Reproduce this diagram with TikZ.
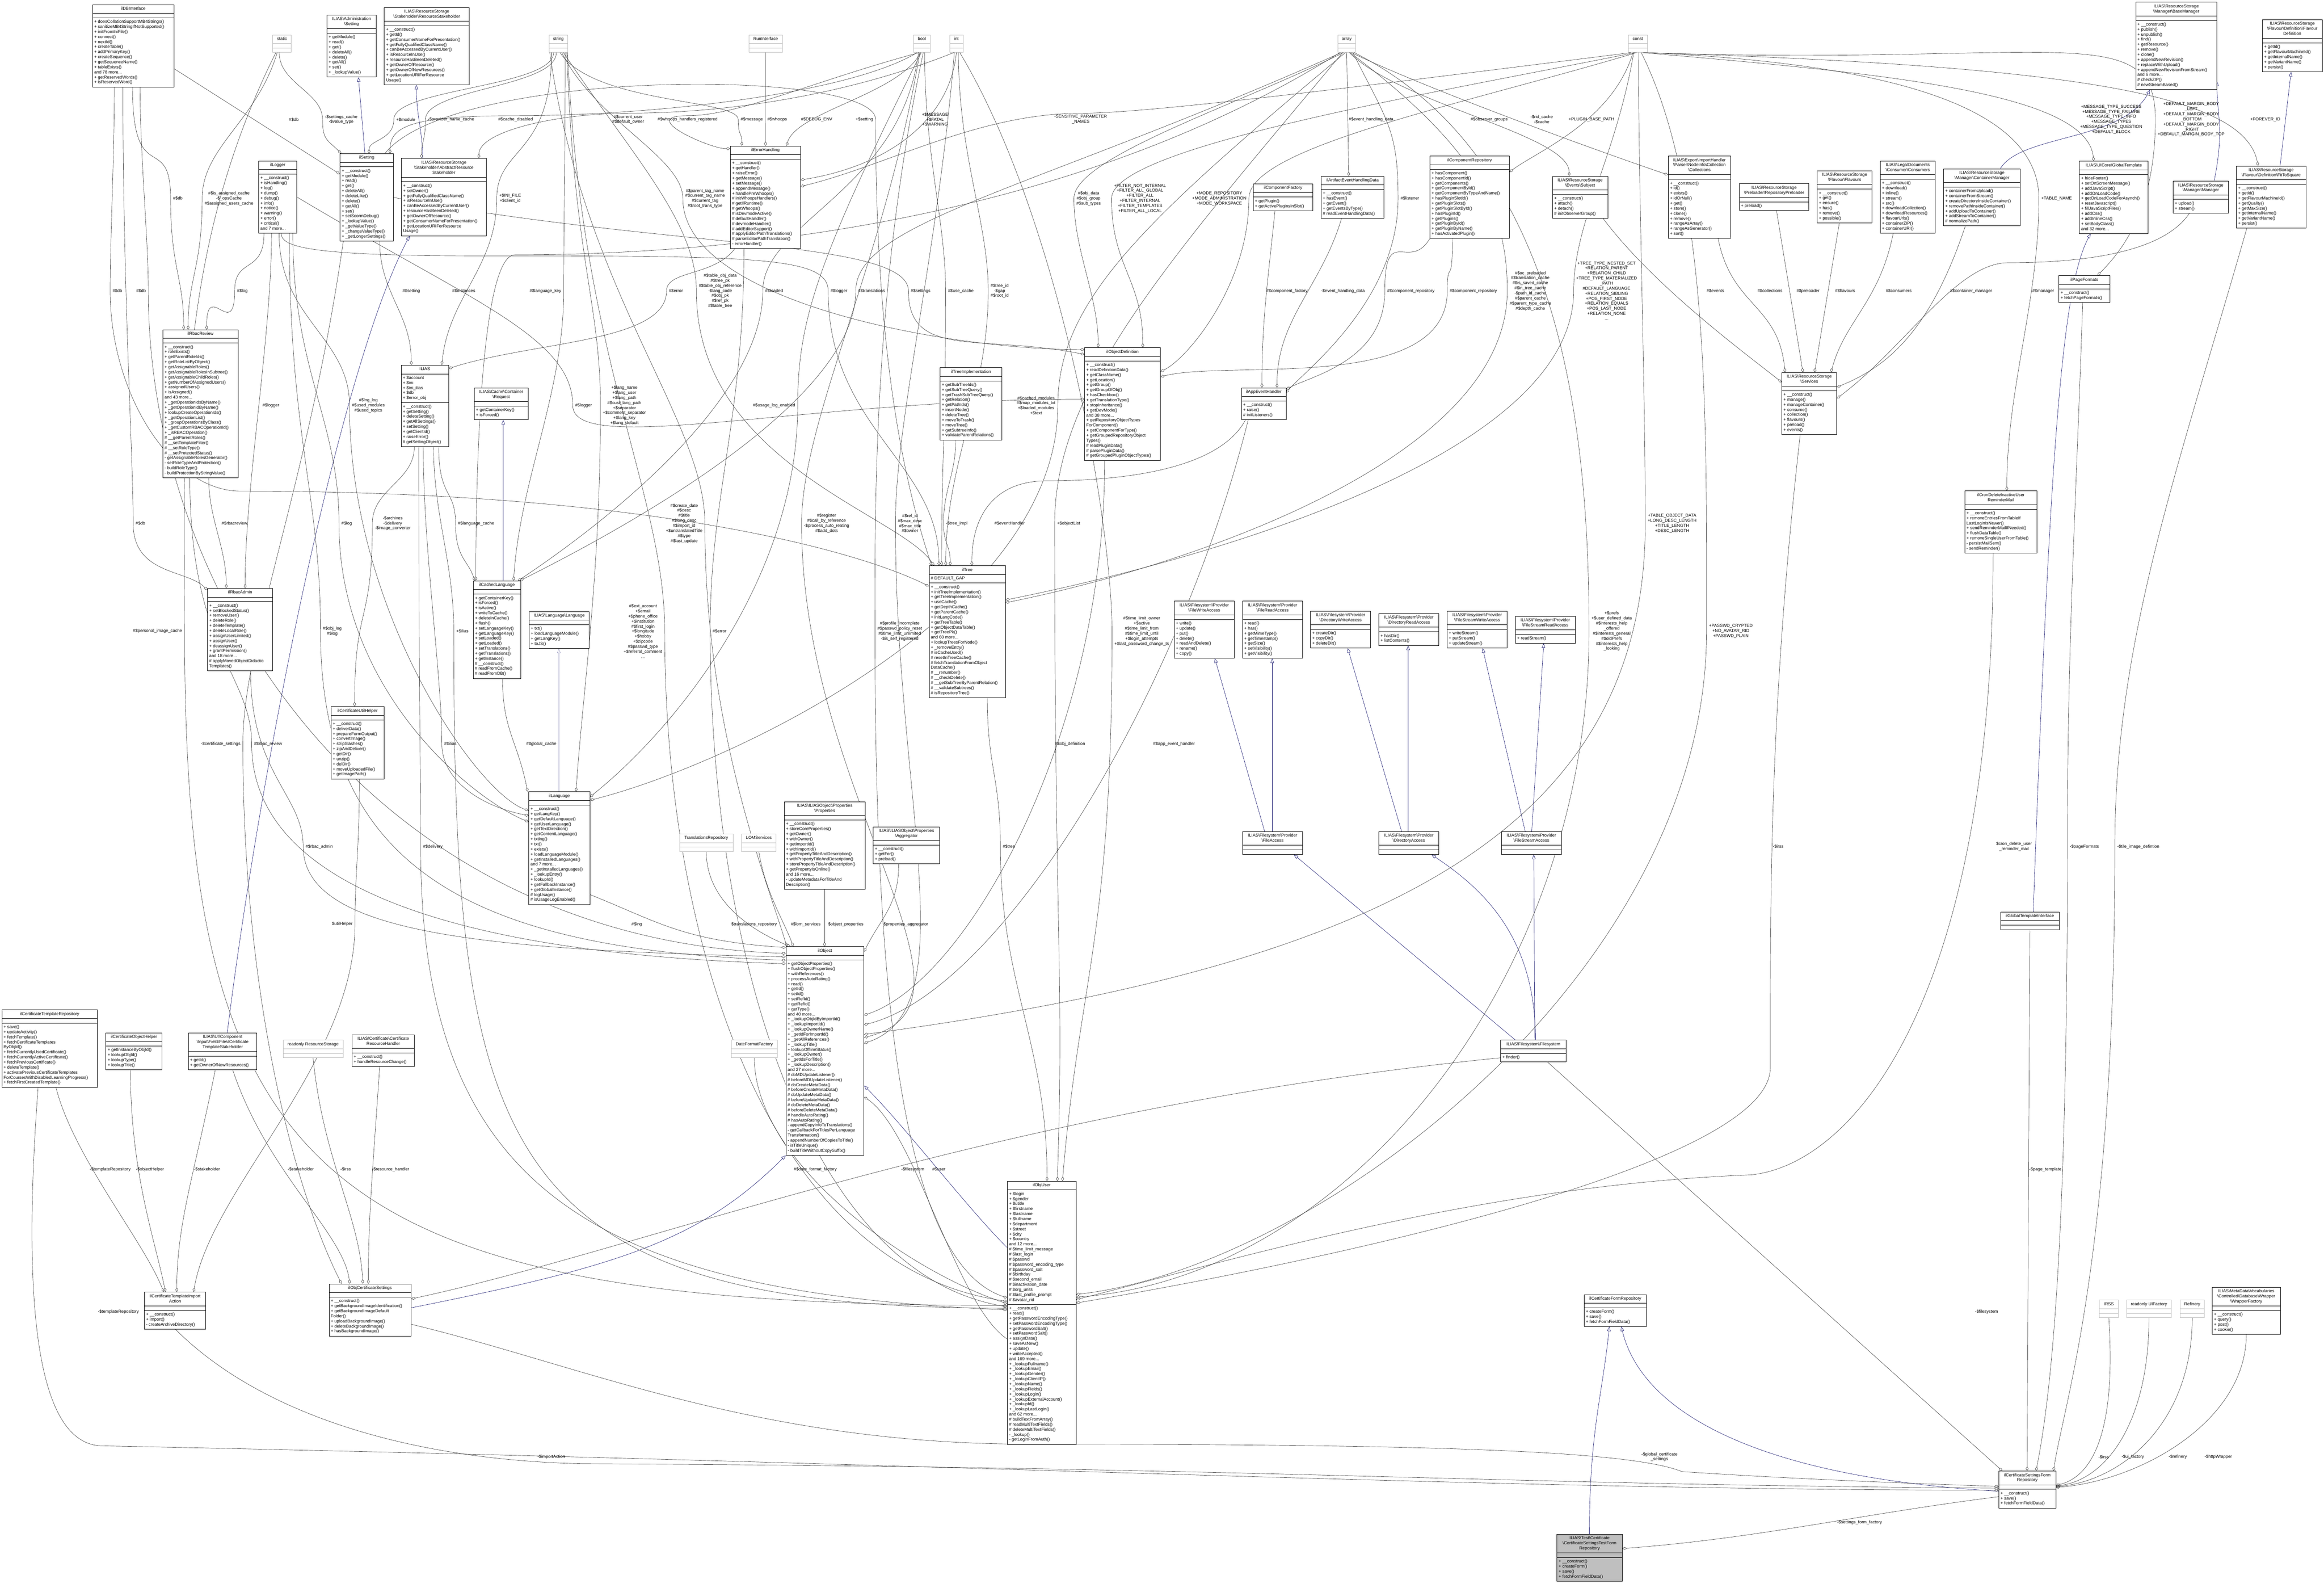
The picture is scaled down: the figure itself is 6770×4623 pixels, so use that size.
\documentclass[tikz,border=0pt]{standalone}
\usepackage{fontspec}
\setmainfont{Liberation Sans}
\usetikzlibrary{shapes.multipart,arrows.meta,backgrounds}
\pgfdeclarelayer{paper}
\pgfsetlayers{paper,background,main}
\definecolor{aggc}{HTML}{404040}
\definecolor{inhc}{HTML}{191970}
\definecolor{tboxc}{HTML}{BFBFBF}
\newcommand{\dfont}{\fontsize{12.5}{14.7}\selectfont}
\newcommand{\bsl}{\textbackslash}
\tikzset{
 umlcls/.style={rectangle split, rectangle split parts=3, draw=black, line width=1.1pt, fill=white, anchor=north west, inner xsep=5pt, inner ysep=4.6pt, font=\dfont, rectangle split part align={center,left,left}},
 typebox/.style={umlcls, draw=tboxc, line width=1pt},
 lbl/.style={font=\dfont, align=center, inner sep=1pt},
 agg/.style={draw=aggc, line width=0.9pt, -{Diamond[open,length=13pt,width=8pt]}},
 inh/.style={draw=inhc, line width=0.9pt, -{Triangle[open,length=13pt,width=10pt]}},
 inhl/.style={inh, draw=inhc!45},
}
\newcommand{\umlc}[7]{\node[umlcls, minimum width=#4pt] (#1) at (#2,#3) {\begin{tabular}{@{}c@{}}#5\end{tabular}\nodepart{two}\begin{tabular}{@{}l@{}}#6\end{tabular}\nodepart{three}\begin{tabular}{@{}l@{}}#7\end{tabular}};}
\newcommand{\typec}[5]{\node[typebox, minimum width=#4pt] (#1) at (#2,#3) {\begin{tabular}{@{}c@{}}#5\end{tabular}\nodepart{two}\begin{tabular}{@{}l@{}}\end{tabular}\nodepart{three}\begin{tabular}{@{}l@{}}\end{tabular}};}
\begin{document}
\begin{tikzpicture}[x=1pt,y=-1pt]
\begin{pgfonlayer}{paper}
\fill[white] (0,0) rectangle (6770,4623);
\end{pgfonlayer}
\useasboundingbox (0,0) rectangle (6770,4623);
% ---------- type boxes
\typec{tStatic}{794}{101}{54}{static}
\typec{tString}{1599}{101}{54}{string}
\typec{tRun}{2181}{101}{98}{RunInterface}
\typec{tBool}{2661}{101}{48}{bool}
\typec{tInt}{2766}{101}{39}{int}
\typec{tArray}{3897}{101}{51}{array}
\typec{tConst}{4743}{101}{55}{const}
\typec{transrepo}{1979}{2428}{156}{TranslationsRepository}
\typec{lom}{2160}{2428}{100}{LOMServices}
\typec{datefmt}{2130}{3028}{134}{DateFormatFactory}
\typec{rostorage}{824}{3028}{175}{readonly ResourceStorage}
\typec{irss}{6115}{3785}{55}{IRSS}
\typec{uifac}{6194}{3785}{131}{readonly UIFactory}
\typec{refinery}{6350}{3785}{71}{Refinery}
% ---------- classes
\umlc{dbi}{269}{13}{237}{ilDBInterface}{}{+ doesCollationSupportMB4Strings()\\+ sanitizeMB4StringIfNotSupported()\\+ initFromIniFile()\\+ connect()\\+ nextId()\\+ createTable()\\+ addPrimaryKey()\\+ createSequence()\\+ getSequenceName()\\+ tableExists()\\and 78 more...\\+ getReservedWords()\\+ isReservedWord()}
\umlc{admset}{952}{43}{143}{ILIAS\bsl Administration\\\bsl Setting}{}{+ getModule()\\+ read()\\+ get()\\+ deleteAll()\\+ delete()\\+ getAll()\\+ set()\\+ \_lookupValue()}
\umlc{resstake}{1119}{21}{247}{ILIAS\bsl ResourceStorage\\\bsl Stakeholder\bsl ResourceStakeholder}{}{+ \_\_construct()\\+ getId()\\+ getConsumerNameForPresentation()\\+ getFullyQualifiedClassName()\\+ canBeAccessedByCurrentUser()\\+ isResourceInUse()\\+ resourceHasBeenDeleted()\\+ getOwnerOfResource()\\+ getOwnerOfNewResources()\\+ getLocationURIForResource\\Usage()}
\umlc{ilsetting}{990}{447}{155}{ilSetting}{}{+ \_\_construct()\\+ getModule()\\+ read()\\+ get()\\+ deleteAll()\\+ deleteLike()\\+ delete()\\+ getAll()\\+ set()\\+ setScormDebug()\\+ \_lookupValue()\\+ \_getValueType()\\+ \_changeValueType()\\+ \_getLongerSettings()}
\umlc{absstake}{1169}{461}{247}{ILIAS\bsl ResourceStorage\\\bsl Stakeholder\bsl AbstractResource\\Stakeholder}{}{+ \_\_construct()\\+ setOwner()\\+ getFullyQualifiedClassName()\\+ isResourceInUse()\\+ canBeAccessedByCurrentUser()\\+ resourceHasBeenDeleted()\\+ getOwnerOfResource()\\+ getConsumerNameForPresentation()\\+ getLocationURIForResource\\Usage()}
\umlc{logger}{753}{468}{111}{ilLogger}{}{+ \_\_construct()\\+ isHandling()\\+ log()\\+ dump()\\+ debug()\\+ info()\\+ notice()\\+ warning()\\+ error()\\+ critical()\\and 7 more...}
\umlc{rbacreview}{474}{960}{219}{ilRbacReview}{}{+ \_\_construct()\\+ roleExists()\\+ getParentRoleIds()\\+ getRoleListByObject()\\+ getAssignableRoles()\\+ getAssignableRolesInSubtree()\\+ getAssignableChildRoles()\\+ getNumberOfAssignedUsers()\\+ assignedUsers()\\+ isAssigned()\\and 43 more...\\+ \_getOperationIdsByName()\\+ \_getOperationIdByName()\\+ lookupCreateOperationIds()\\+ \_getOperationList()\\+ \_groupOperationsByClass()\\+ \_getCustomRBACOperationId()\\+ \_isRBACOperation()\\\# \_\_getParentRoles()\\\# \_\_setTemplateFilter()\\\# \_\_setRoleType()\\\# \_\_setProtectedStatus()\\- getAssignableRolesGenerator()\\- setRoleTypeAndProtection()\\- buildRoleType()\\- buildProtectionByStringValue()}
\umlc{ilias}{1168}{1063}{138}{ILIAS}{+ \$account\\+ \$ini\\+ \$ini\_ilias\\+ \$db\\+ \$error\_obj}{+ \_\_construct()\\+ getSetting()\\+ deleteSetting()\\+ getAllSettings()\\+ setSetting()\\+ getClientId()\\+ raiseError()\\\# getSettingObject()}
\umlc{request}{1381}{1129}{157}{ILIAS\bsl Cache\bsl Container\\\bsl Request}{}{+ getContainerKey()\\+ isForced()}
\umlc{errh}{2127}{425}{204}{ilErrorHandling}{}{+ \_\_construct()\\+ getHandler()\\+ raiseError()\\+ getMessage()\\+ setMessage()\\+ appendMessage()\\+ handlePreWhoops()\\\# initWhoopsHandlers()\\\# getIlRuntime()\\\# getWhoops()\\\# isDevmodeActive()\\\# defaultHandler()\\\# devmodeHandler()\\\# addEditorSupport()\\\# applyEditorPathTranslations()\\\# parseEditorPathTranslation()\\- errorHandler()}
\umlc{objdef}{3159}{1012}{221}{ilObjectDefinition}{}{+ \_\_construct()\\+ readDefinitionData()\\+ getClassName()\\+ getLocation()\\+ getGroup()\\+ getGroupOfObj()\\+ hasCheckbox()\\+ getTranslationType()\\+ stopInheritance()\\+ getDevMode()\\and 38 more...\\+ getRepositoryObjectTypes\\ForComponent()\\+ getComponentForType()\\+ getGroupedRepositoryObject\\Types()\\\# readPluginData()\\\# parsePluginData()\\\# getGroupedPluginObjectTypes()}
\umlc{treeimpl}{2738}{1070}{180}{ilTreeImplementation}{}{+ getSubTreeIds()\\+ getSubTreeQuery()\\+ getTrashSubTreeQuery()\\+ getRelation()\\+ getPathIds()\\+ insertNode()\\+ deleteTree()\\+ moveToTrash()\\+ moveTree()\\+ getSubtreeInfo()\\+ validateParentRelations()}
\umlc{compfac}{3650}{535}{174}{ilComponentFactory}{}{+ getPlugin()\\+ getActivePluginsInSlot()}
\umlc{artifact}{3848}{513}{183}{ilArtifactEventHandlingData}{}{+ \_\_construct()\\+ hasEvent()\\+ getEvent()\\+ getEventsByType()\\\# readEventHandlingData()}
\umlc{comprepo}{4165}{454}{231}{ilComponentRepository}{}{+ hasComponent()\\+ hasComponentId()\\+ getComponents()\\+ getComponentById()\\+ getComponentByTypeAndName()\\+ hasPluginSlotId()\\+ getPluginSlots()\\+ getPluginSlotById()\\+ hasPluginId()\\+ getPlugins()\\+ getPluginById()\\+ getPluginByName()\\+ hasActivatedPlugin()}
\umlc{subject}{4522}{513}{161}{ILIAS\bsl ResourceStorage\\\bsl Events\bsl Subject}{}{+ \_\_construct()\\+ attach()\\+ detach()\\\# initObserverGroup()}
\umlc{collections}{4859}{454}{182}{ILIAS\bsl Export\bsl ImportHandler\\\bsl Parser\bsl NodeInfo\bsl Collection\\\bsl Collections}{}{+ \_\_construct()\\+ id()\\+ exists()\\+ idOrNull()\\+ get()\\+ store()\\+ clone()\\+ remove()\\+ rangeAsArray()\\+ rangeAsGenerator()\\+ sort()}
\umlc{appevent}{3616}{1129}{130}{ilAppEventHandler}{}{+ \_\_construct()\\+ raise()\\\# initListeners()}
\umlc{preloader}{5066}{534}{203}{ILIAS\bsl ResourceStorage\\\bsl Preloader\bsl RepositoryPreloader}{}{+ preload()}
\umlc{flavours}{5293}{497}{160}{ILIAS\bsl ResourceStorage\\\bsl Flavour\bsl Flavours}{}{+ \_\_construct()\\+ get()\\+ ensure()\\+ has()\\+ remove()\\+ possible()}
\umlc{consumers}{5477}{468}{160}{ILIAS\bsl LegalDocuments\\\bsl Consumer\bsl Consumers}{}{+ \_\_construct()\\+ download()\\+ inline()\\+ stream()\\+ src()\\+ downloadCollection()\\+ downloadResources()\\+ flavourUrls()\\+ containerZIP()\\+ containerURI()}
\umlc{contmgr}{5661}{491}{224}{ILIAS\bsl ResourceStorage\\\bsl Manager\bsl ContainerManager}{}{+ containerFromUpload()\\+ containerFromStream()\\+ createDirectoryInsideContainer()\\+ removePathInsideContainer()\\+ addUploadToContainer()\\+ addStreamToContainer()\\\# normalizePath()}
\umlc{globtpl}{6057}{469}{200}{ILIAS\bsl UICore\bsl GlobalTemplate}{}{+ hideFooter()\\+ setOnScreenMessage()\\+ addJavaScript()\\+ addOnLoadCode()\\+ getOnLoadCodeForAsynch()\\+ resetJavascript()\\+ fillJavaScriptFiles()\\+ addCss()\\+ addInlineCss()\\+ setBodyClass()\\and 32 more...}
\umlc{manager}{6330}{527}{161}{ILIAS\bsl ResourceStorage\\\bsl Manager\bsl Manager}{}{+ upload()\\+ stream()}
\umlc{fitsq}{6514}{483}{203}{ILIAS\bsl ResourceStorage\\\bsl Flavour\bsl Definition\bsl FitToSquare}{}{+ \_\_construct()\\+ getId()\\+ getFlavourMachineId()\\+ getQuality()\\+ getMaxSize()\\+ getInternalName()\\+ getVariantName()\\+ persist()}
\umlc{basemgr}{6221}{6}{236}{ILIAS\bsl ResourceStorage\\\bsl Manager\bsl BaseManager}{}{+ \_\_construct()\\+ publish()\\+ unpublish()\\+ find()\\+ getResource()\\+ remove()\\+ clone()\\+ appendNewRevision()\\+ replaceWithUpload()\\+ appendNewRevisionFromStream()\\and 6 more...\\\# checkZIP()\\\# newStreamBased()}
\umlc{flavdef}{6590}{57}{174}{ILIAS\bsl ResourceStorage\\\bsl Flavour\bsl Definition\bsl Flavour\\Definition}{}{+ getId()\\+ getFlavourMachineId()\\+ getInternalName()\\+ getVariantName()\\+ persist()}
\umlc{pageformats}{5997}{802}{149}{ilPageFormats}{}{+ \_\_construct()\\+ fetchPageFormats()}
\umlc{services}{5190}{1084}{160}{ILIAS\bsl ResourceStorage\\\bsl Services}{}{+ \_\_construct()\\+ manage()\\+ manageContainer()\\+ consume()\\+ collection()\\+ flavours()\\+ preload()\\+ events()}
\umlc{rbacadmin}{604}{1713}{190}{ilRbacAdmin}{}{+ \_\_construct()\\+ setBlockedStatus()\\+ removeUser()\\+ deleteRole()\\+ deleteTemplate()\\+ deleteLocalRole()\\+ assignUserLimited()\\+ assignUser()\\+ deassignUser()\\+ grantPermission()\\and 18 more...\\\# applyMovedObjectDidactic\\Templates()}
\umlc{utilhelper}{964}{2057}{154}{ilCertificateUtilHelper}{}{+ \_\_construct()\\+ deliverData()\\+ prepareFormOutput()\\+ convertImage()\\+ stripSlashes()\\+ zipAndDeliver()\\+ getDir()\\+ unzip()\\+ delDir()\\+ moveUploadedFile()\\+ getImagePath()}
\umlc{cachedlang}{1378}{1691}{138}{ilCachedLanguage}{}{+ getContainerKey()\\+ isForced()\\+ isActive()\\+ writeToCache()\\+ deleteInCache()\\+ flush()\\+ setLanguageKey()\\+ getLanguageKey()\\+ setLoaded()\\+ getLoaded()\\+ setTranslations()\\+ getTranslations()\\+ getInstance()\\\# \_\_construct()\\\# readFromCache()\\\# readFromDB()}
\umlc{langif}{1541}{1780}{175}{ILIAS\bsl Language\bsl Language}{}{+ txt()\\+ loadLanguageModule()\\+ getLangKey()\\+ toJS()}
\umlc{illang}{1540}{2305}{178}{ilLanguage}{}{+ \_\_construct()\\+ getLangKey()\\+ getDefaultLanguage()\\+ getUserLanguage()\\+ getTextDirection()\\+ getContentLanguage()\\+ txtlng()\\+ txt()\\+ exists()\\+ loadLanguageModule()\\+ getInstalledLanguages()\\and 7 more...\\+ \_getInstalledLanguages()\\+ \_lookupEntry()\\+ lookupId()\\+ getFallbackInstance()\\+ getGlobalInstance()\\\# logUsage()\\\# isUsageLogEnabled()}
\umlc{iltree}{2706}{1647}{222}{ilTree}{\# DEFAULT\_GAP}{+ \_\_construct()\\+ initTreeImplementation()\\+ getTreeImplementation()\\+ useCache()\\+ getDepthCache()\\+ getParentCache()\\+ initLangCode()\\+ getTreeTable()\\+ getObjectDataTable()\\+ getTreePk()\\and 60 more...\\+ lookupTreesForNode()\\+ \_removeEntry()\\\# isCacheUsed()\\\# resetInTreeCache()\\\# fetchTranslationFromObject\\DataCache()\\\# \_\_renumber()\\\# \_\_checkDelete()\\\# \_\_getSubTreeByParentRelation()\\\# \_\_validateSubtrees()\\\# isRepositoryTree()}
\umlc{props}{2284}{2334}{236}{ILIAS\bsl ILIASObject\bsl Properties\\\bsl Properties}{}{+ \_\_construct()\\+ storeCoreProperties()\\+ getOwner()\\+ withOwner()\\+ getImportId()\\+ withImportId()\\+ getPropertyTitleAndDescription()\\+ withPropertyTitleAndDescription()\\+ storePropertyTitleAndDescription()\\+ getPropertyIsOnline()\\and 16 more...\\- updateMetadataForTitleAnd\\Description()}
\umlc{aggregator}{2543}{2407}{194}{ILIAS\bsl ILIASObject\bsl Properties\\\bsl Aggregator}{}{+ \_\_construct()\\+ getFor()\\+ preload()}
\umlc{ilobject}{2289}{2756}{227}{ilObject}{}{+ getObjectProperties()\\+ flushObjectProperties()\\+ withReferences()\\+ processAutoRating()\\+ read()\\+ getId()\\+ setId()\\+ setRefId()\\+ getRefId()\\+ getType()\\and 40 more...\\+ \_lookupObjIdByImportId()\\+ \_lookupImportId()\\+ \_lookupOwnerName()\\+ \_getIdForImportId()\\+ \_getAllReferences()\\+ \_lookupTitle()\\+ lookupOfflineStatus()\\+ \_lookupOwner()\\+ \_getIdsForTitle()\\+ \_lookupDescription()\\and 27 more...\\\# doMDUpdateListener()\\\# beforeMDUpdateListener()\\\# doCreateMetaData()\\\# beforeCreateMetaData()\\\# doUpdateMetaData()\\\# beforeUpdateMetaData()\\\# doDeleteMetaData()\\\# beforeDeleteMetaData()\\\# handleAutoRating()\\\# hasAutoRating()\\- appendCopyInfoToTranslations()\\- getCallbackForTitlesPerLanguage\\Transformation()\\- appendNumberOfCopiesToTitle()\\- isTitleUnique()\\- buildTitleWithoutCopySuffix()}
\umlc{objuser}{2934}{3439}{200}{ilObjUser}{+ \$login\\+ \$gender\\+ \$utitle\\+ \$firstname\\+ \$lastname\\+ \$fullname\\+ \$department\\+ \$street\\+ \$city\\+ \$country\\and 12 more...\\\# \$time\_limit\_message\\\# \$last\_login\\\# \$passwd\\\# \$password\_encoding\_type\\\# \$password\_salt\\\# \$birthday\\\# \$second\_email\\\# \$inactivation\_date\\\# \$org\_units\\\# \$last\_profile\_prompt\\\# \$avatar\_rid}{+ \_\_construct()\\+ read()\\+ getPasswordEncodingType()\\+ setPasswordEncodingType()\\+ getPasswordSalt()\\+ setPasswordSalt()\\+ assignData()\\+ saveAsNew()\\+ update()\\+ writeAccepted()\\and 169 more...\\+ \_lookupFullname()\\+ \_lookupEmail()\\+ \_lookupGender()\\+ \_lookupClientIP()\\+ \_lookupName()\\+ \_lookupFields()\\+ \_lookupLogin()\\+ \_lookupExternalAccount()\\+ \_lookupId()\\+ \_lookupLastLogin()\\and 62 more...\\\# buildTextFromArray()\\\# readMultiTextFields()\\\# deleteMultiTextFields()\\- \_lookup()\\- getLoginFromAuth()}
\umlc{fwa}{3420}{1750}{175}{ILIAS\bsl Filesystem\bsl Provider\\\bsl FileWriteAccess}{}{+ write()\\+ update()\\+ put()\\+ delete()\\+ readAndDelete()\\+ rename()\\+ copy()}
\umlc{fra}{3619}{1750}{175}{ILIAS\bsl Filesystem\bsl Provider\\\bsl FileReadAccess}{}{+ read()\\+ has()\\+ getMimeType()\\+ getTimestamp()\\+ getSize()\\+ setVisibility()\\+ getVisibility()}
\umlc{dwa}{3817}{1779}{175}{ILIAS\bsl Filesystem\bsl Provider\\\bsl DirectoryWriteAccess}{}{+ createDir()\\+ copyDir()\\+ deleteDir()}
\umlc{dra}{4016}{1786}{175}{ILIAS\bsl Filesystem\bsl Provider\\\bsl DirectoryReadAccess}{}{+ hasDir()\\+ listContents()}
\umlc{fswa}{4215}{1779}{175}{ILIAS\bsl Filesystem\bsl Provider\\\bsl FileStreamWriteAccess}{}{+ writeStream()\\+ putStream()\\+ updateStream()}
\umlc{fsra}{4414}{1794}{174}{ILIAS\bsl Filesystem\bsl Provider\\\bsl FileStreamReadAccess}{}{+ readStream()}
\umlc{facc}{3619}{2421}{175}{ILIAS\bsl Filesystem\bsl Provider\\\bsl FileAccess}{}{}
\umlc{dacc}{4016}{2421}{175}{ILIAS\bsl Filesystem\bsl Provider\\\bsl DirectoryAccess}{}{}
\umlc{fsacc}{4373}{2421}{175}{ILIAS\bsl Filesystem\bsl Provider\\\bsl FileStreamAccess}{}{}
\umlc{filesystem}{4371}{3028}{191}{ILIAS\bsl Filesystem\bsl Filesystem}{}{+ finder()}
\umlc{certformrepo}{4614}{3769}{182}{ilCertificateFormRepository}{}{+ createForm()\\+ save()\\+ fetchFormFieldData()}
\node[umlcls, fill=tboxc, minimum width=190pt] (testformrepo) at (4535,4467) {\begin{tabular}{@{}c@{}}ILIAS\bsl Test\bsl Certificate\\\bsl CertificateSettingsTestForm\\Repository\end{tabular}\nodepart{two}\begin{tabular}{@{}l@{}}\end{tabular}\nodepart{three}\begin{tabular}{@{}l@{}}+ \_\_construct()\\+ createForm()\\+ save()\\+ fetchFormFieldData()\end{tabular}};
\umlc{cron}{5723}{1429}{210}{ilCronDeleteInactiveUser\\ReminderMail}{}{+ \_\_construct()\\+ removeEntriesFromTableIf\\LastLoginIsNewer()\\+ sendReminderMailIfNeeded()\\+ flushDataTable()\\+ removeSingleUserFromTable()\\- persistMailSent()\\- sendReminder()}
\umlc{globtplif}{5827}{2655}{171}{ilGlobalTemplateInterface}{}{}
\umlc{wrapfac}{6444}{3748}{198}{ILIAS\bsl MetaData\bsl Vocabularies\\\bsl Controlled\bsl Database\bsl Wrapper\\\bsl WrapperFactory}{}{+ \_\_construct()\\+ query()\\+ post()\\+ cookie()}
\umlc{settingsformrepo}{5822}{4283}{166}{ilCertificateSettingsForm\\Repository}{}{+ \_\_construct()\\+ save()\\+ fetchFormFieldData()}
\umlc{certtplrepo}{5}{2940}{278}{ilCertificateTemplateRepository}{}{+ save()\\+ updateActivity()\\+ fetchTemplate()\\+ fetchCertificateTemplates\\ByObjId()\\+ fetchCurrentlyUsedCertificate()\\+ fetchCurrentlyActiveCertificate()\\+ fetchPreviousCertificate()\\+ deleteTemplate()\\+ activatePreviousCertificateTemplates\\ForCoursesWithDisabledLearningProgress()\\+ fetchFirstCreatedTemplate()}
\umlc{objhelper}{308}{3007}{163}{ilCertificateObjectHelper}{}{+ getInstanceByObjId()\\+ lookupObjId()\\+ lookupType()\\+ lookupTitle()}
\umlc{tplstake}{548}{3007}{200}{ILIAS\bsl UI\bsl Component\\\bsl Input\bsl Field\bsl File\bsl ilCertificate\\TemplateStakeholder}{}{+ getId()\\+ getOwnerOfNewResources()}
\umlc{reshandler}{1025}{3012}{182}{ILIAS\bsl Certificate\bsl Certificate\\ResourceHandler}{}{+ \_\_construct()\\+ handleResourceChange()}
\umlc{importaction}{420}{3762}{179}{ilCertificateTemplateImport\\Action}{}{+ \_\_construct()\\+ import()\\- createArchiveDirectory()}
\umlc{objcertsettings}{958}{3738}{239}{ilObjCertificateSettings}{}{+ \_\_construct()\\+ getBackgroundImageIdentification()\\+ getBackgroundImageDefault\\Folder()\\+ uploadBackgroundImage()\\+ deleteBackgroundImage()\\+ hasBackgroundImage()}
% ---------- labels
\node[lbl] (L1) at (856,348) {\#\$db};
\node[lbl] (L2) at (994,348) {-\$settings\_cache\\-\$value\_type};
\node[lbl] (L3) at (1182,348) {+\$module};
\node[lbl] (L4) at (1314,348) {-\$provider\_name\_cache};
\node[lbl] (L5) at (1502,348) {\#\$cache\_disabled};
\node[lbl] (L6) at (1830,348) {\#\$current\_user\\\#\$default\_owner};
\node[lbl] (L7) at (2003,348) {\#\$whoops\_handlers\_registered};
\node[lbl] (L8) at (2190,348) {\#\$message};
\node[lbl] (L9) at (2264,348) {\#\$whoops};
\node[lbl] (L10) at (2379,348) {\#\$DEBUG\_ENV};
\node[lbl] (L11) at (2518,348) {+\$setting};
\node[lbl] (L12) at (2724,348) {+\$MESSAGE\\+\$FATAL\\+\$WARNING};
\node[lbl] (L13) at (3148,348) {-SENSITIVE\_PARAMETER\\\_NAMES};
\node[lbl] (L14) at (3994,348) {\#\$event\_handling\_data};
\node[lbl] (L15) at (4338,348) {\#\$observer\_groups};
\node[lbl] (L16) at (4491,348) {-\$rid\_cache\\-\$cache};
\node[lbl] (L17) at (4636,348) {+PLUGIN\_BASE\_PATH};
\node[lbl] (L18) at (6150,348) {+MESSAGE\_TYPE\_SUCCESS\\+MESSAGE\_TYPE\_FAILURE\\+MESSAGE\_TYPE\_INFO\\+MESSAGE\_TYPES\\+MESSAGE\_TYPE\_QUESTION\\+DEFAULT\_BLOCK};
\node[lbl] (L19) at (6383,348) {+DEFAULT\_MARGIN\_BODY\\\_LEFT\\+DEFAULT\_MARGIN\_BODY\\\_BOTTOM\\+DEFAULT\_MARGIN\_BODY\\\_RIGHT\\+DEFAULT\_MARGIN\_BODY\_TOP};
\node[lbl] (L20) at (6599,348) {+FOREVER\_ID};
\node[lbl] (L21) at (518,578) {\#\$db};
\node[lbl] (L22) at (667,578) {\#\$is\_assigned\_cache\\-\$\_opsCache\\\#\$assigned\_users\_cache};
\node[lbl] (L23) at (1486,578) {+\$INI\_FILE\\+\$client\_id};
\node[lbl] (L24) at (2054,578) {\#\$parent\_tag\_name\\\#\$current\_tag\_name\\\#\$current\_tag\\\#\$root\_trans\_type};
\node[lbl] (L25) at (3171,578) {\#\$obj\_data\\\#\$obj\_group\\\#\$sub\_types};
\node[lbl] (L26) at (3321,578) {+FILTER\_NOT\_INTERNAL\\+FILTER\_ALL\_GLOBAL\\+FILTER\_ALL\\+FILTER\_INTERNAL\\+FILTER\_TEMPLATES\\+FILTER\_ALL\_LOCAL};
\node[lbl] (L27) at (3552,578) {+MODE\_REPOSITORY\\+MODE\_ADMINISTRATION\\+MODE\_WORKSPACE};
\node[lbl] (L28) at (4107,578) {\#\$listener};
\node[lbl] (L29) at (5991,578) {+TABLE\_NAME};
\node[lbl] (L30) at (342,847) {\#\$db};
\node[lbl] (L31) at (411,847) {\#\$db};
\node[lbl] (L32) at (706,847) {\#\$log};
\node[lbl] (L33) at (1198,847) {\#\$setting};
\node[lbl] (L34) at (1351,847) {\#\$instances};
\node[lbl] (L35) at (1589,847) {\#\$language\_key};
\node[lbl] (L36) at (1969,847) {\#\$error};
\node[lbl] (L37) at (2098,847) {\#\$table\_obj\_data\\\#\$tree\_pk\\\#\$table\_obj\_reference\\-\$lang\_code\\\#\$obj\_pk\\\#\$ref\_pk\\\#\$table\_tree};
\node[lbl] (L38) at (2255,847) {\#\$loaded};
\node[lbl] (L39) at (2444,847) {\#\$logger};
\node[lbl] (L40) at (2539,847) {\#\$translations};
\node[lbl] (L41) at (2682,847) {\#\$settings};
\node[lbl] (L42) at (2799,847) {\#\$use\_cache};
\node[lbl] (L43) at (2912,847) {\#\$tree\_id\\-\$gap\\\#\$root\_id};
\node[lbl] (L44) at (3749,847) {\#\$component\_factory};
\node[lbl] (L45) at (3912,847) {-\$event\_handling\_data};
\node[lbl] (L46) at (4110,847) {\#\$component\_repository};
\node[lbl] (L47) at (4292,847) {\#\$component\_repository};
\node[lbl] (L48) at (4458,847) {\#\$oc\_preloaded\\\#\$translation\_cache\\\#\$is\_saved\_cache\\\#\$in\_tree\_cache\\-\$path\_id\_cache\\\#\$parent\_cache\\\#\$parent\_type\_cache\\\#\$depth\_cache};
\node[lbl] (L49) at (4680,847) {+TREE\_TYPE\_NESTED\_SET\\+RELATION\_PARENT\\+RELATION\_CHILD\\+TREE\_TYPE\_MATERIALIZED\\\_PATH\\\#DEFAULT\_LANGUAGE\\+RELATION\_SIBLING\\+POS\_FIRST\_NODE\\+RELATION\_EQUALS\\+POS\_LAST\_NODE\\+RELATION\_NONE\\...};
\node[lbl] (L50) at (4997,847) {\#\$events};
\node[lbl] (L51) at (5156,847) {\#\$collections};
\node[lbl] (L52) at (5267,847) {\#\$preloader};
\node[lbl] (L53) at (5375,847) {\#\$flavours};
\node[lbl] (L54) at (5531,847) {\#\$consumers};
\node[lbl] (L55) at (5742,847) {\#\$container\_manager};
\node[lbl] (L56) at (5952,847) {\#\$manager};
\node[lbl] (L57) at (789,1181) {\#\$logger};
\node[lbl] (L58) at (1073,1181) {\#\$lng\_log\\\#\$used\_modules\\\#\$used\_topics};
\node[lbl] (L59) at (1700,1181) {\#\$logger};
\node[lbl] (L60) at (1819,1181) {+\$lang\_name\\+\$lang\_user\\+\$lang\_path\\\#\$cust\_lang\_path\\+\$separator\\+\$comment\_separator\\+\$lang\_key\\+\$lang\_default};
\node[lbl] (L61) at (2255,1181) {\#\$usage\_log\_enabled};
\node[lbl] (L62) at (3018,1181) {\#\$cached\_modules\\\#\$map\_modules\_txt\\+\$loaded\_modules\\+\$text};
\node[lbl] (L63) at (409,1524) {\#\$db};
\node[lbl] (L64) at (683,1524) {\#\$rbacreview};
\node[lbl] (L65) at (1010,1524) {\#\$log};
\node[lbl] (L66) at (1144,1524) {-\$archives\\-\$delivery\\-\$image\_converter};
\node[lbl] (L67) at (1387,1524) {\#\$language\_cache};
\node[lbl] (L68) at (1993,1524) {\#\$create\_date\\\#\$desc\\\#\$title\\\#\$long\_desc\\\#\$import\_id\\+\$untranslatedTitle\\\#\$type\\\#\$last\_update};
\node[lbl] (L69) at (2408,1524) {\#\$register\\\#\$call\_by\_reference\\-\$process\_auto\_reating\\\#\$add\_dots};
\node[lbl] (L70) at (2651,1524) {\#\$ref\_id\\\#\$max\_desc\\\#\$max\_title\\\#\$owner};
\node[lbl] (L71) at (2787,1524) {-\$tree\_impl};
\node[lbl] (L72) at (2941,1524) {\#\$eventHandler};
\node[lbl] (L73) at (3113,1524) {+\$objectList};
\node[lbl] (L74) at (4871,1524) {+TABLE\_OBJECT\_DATA\\+LONG\_DESC\_LENGTH\\+TITLE\_LENGTH\\+DESC\_LENGTH};
\node[lbl] (L75) at (459,1838) {\#\$personal\_image\_cache};
\node[lbl] (L76) at (968,1838) {\#\$obj\_log\\\#\$log};
\node[lbl] (L77) at (1347,1838) {+\$ilias};
\node[lbl] (L78) at (1873,1838) {\#\$ext\_account\\+\$email\\+\$phone\_office\\+\$institution\\\#\$first\_login\\+\$longitude\\+\$hobby\\+\$zipcode\\\#\$passwd\_type\\+\$referral\_comment\\...};
\node[lbl] (L79) at (2096,1838) {\#\$error};
\node[lbl] (L80) at (2621,1838) {\#\$profile\_incomplete\\\#\$passwd\_policy\_reset\\\#\$time\_limit\_unlimited\\-\$is\_self\_registered};
\node[lbl] (L81) at (3326,1838) {\#\$time\_limit\_owner\\+\$active\\\#\$time\_limit\_from\\\#\$time\_limit\_until\\+\$login\_attempts\\+\$last\_password\_change\_ts};
\node[lbl] (L82) at (4695,1838) {+\$prefs\\+\$user\_defined\_data\\\#\$interests\_help\\\_offered\\\#\$interests\_general\\\#\$oldPrefs\\\#\$interests\_help\\\_looking};
\node[lbl] (L83) at (5042,1838) {+PASSWD\_CRYPTED\\+NO\_AVATAR\_RID\\+PASSWD\_PLAIN};
\node[lbl] (L84) at (643,2166) {-\$certificate\_settings};
\node[lbl] (L85) at (781,2166) {\#\$rbac\_review};
\node[lbl] (L86) at (1312,2166) {\#\$ilias};
\node[lbl] (L87) at (1577,2166) {\#\$global\_cache};
\node[lbl] (L88) at (3117,2166) {\#\$obj\_definition};
\node[lbl] (L89) at (3420,2166) {\#\$app\_event\_handler};
\node[lbl] (L90) at (930,2465) {\#\$rbac\_admin};
\node[lbl] (L91) at (1261,2465) {\#\$delivery};
\node[lbl] (L92) at (2939,2465) {\#\$tree};
\node[lbl] (L93) at (5180,2465) {-\$irss};
\node[lbl] (L94) at (5867,2465) {\$cron\_delete\_user\\\_reminder\_mail};
\node[lbl] (L95) at (6072,2465) {-\$pageFormats};
\node[lbl] (L96) at (6229,2465) {-\$tile\_image\_defintion};
\node[lbl] (L97) at (997,2691) {\$utilHelper};
\node[lbl] (L98) at (1855,2692) {\#\$lng};
\node[lbl] (L99) at (2197,2692) {\$translations\_repository};
\node[lbl] (L100) at (2347,2692) {\#\$lom\_services};
\node[lbl] (L101) at (2464,2692) {\$object\_properties};
\node[lbl] (L102) at (2639,2692) {\$properties\_aggregator};
\node[lbl] (L103) at (321,3405) {-\$templateRepository};
\node[lbl] (L104) at (437,3405) {-\$objectHelper};
\node[lbl] (L105) at (603,3405) {-\$stakeholder};
\node[lbl] (L106) at (876,3405) {-\$stakeholder};
\node[lbl] (L107) at (1007,3405) {-\$irss};
\node[lbl] (L108) at (1138,3405) {-\$resource\_handler};
\node[lbl] (L109) at (2375,3405) {\#\$date\_format\_factory};
\node[lbl] (L110) at (2659,3405) {-\$filesystem};
\node[lbl] (L111) at (2735,3405) {\#\$user};
\node[lbl] (L112) at (5958,3405) {-\$page\_template};
\node[lbl] (L113) at (345,3819) {-\$templateRepository};
\node[lbl] (L114) at (5787,3819) {-\$filesystem};
\node[lbl] (L115) at (1606,4242) {-\$importAction};
\node[lbl] (L116) at (4834,4242) {-\$global\_certificate\\\_settings};
\node[lbl] (L117) at (6128,4242) {-\$irss};
\node[lbl] (L118) at (6213,4242) {-\$ui\_factory};
\node[lbl] (L119) at (6344,4242) {-\$refinery};
\node[lbl] (L120) at (6462,4242) {-\$httpWrapper};
\node[lbl] (L121) at (5417,4433) {-\$settings\_form\_factory};
% ---------- connectors
\begin{pgfonlayer}{background}
% inheritance
\draw[inh] ([xshift=-5pt]ilsetting.north) -- ([xshift=20pt]admset.south);
\draw[inh] ([xshift=-62pt]absstake.north) .. controls +(0,-80) and +(0,90) .. ([xshift=-30pt]resstake.south);
\draw[inh] ([xshift=114pt]tplstake.north west) .. controls +(100,-800) and +(-200,380) .. ([xshift=-100pt]absstake.south);
\draw[inh] ([xshift=88pt]cachedlang.north west) -- ([xshift=85pt]request.south west);
\draw[inhl] ([xshift=88pt]illang.north west) -- ([xshift=87pt]langif.south west);
\draw[inh] ([yshift=-194pt]objuser.north west) .. controls +(-120,-120) and +(120,120) .. ([yshift=-405pt]ilobject.north east);
\draw[inh] ([yshift=-70pt]objcertsettings.north east) .. controls +(600,-120) and +(-250,250) .. ([yshift=-608pt]ilobject.north west);
\draw[inh] ([xshift=43pt]filesystem.north west) -- ([xshift=150pt]facc.south west);
\draw[inh] ([xshift=102pt]filesystem.north west) .. controls +(0,-300) and +(150,100) .. ([xshift=154pt]dacc.south west);
\draw[inh] ([xshift=100pt]filesystem.north west) -- ([xshift=95pt]fsacc.south west);
\draw[inh] ([xshift=65pt]facc.north west) -- ([xshift=119pt]fwa.south west);
\draw[inh] ([xshift=87pt]facc.north west) -- ([xshift=87pt]fra.south west);
\draw[inh] ([xshift=67pt]dacc.north west) -- ([xshift=109pt]dwa.south west);
\draw[inh] ([xshift=86pt]dacc.north west) -- ([xshift=86pt]dra.south west);
\draw[inh] ([xshift=70pt]fsacc.north west) -- ([xshift=104pt]fswa.south west);
\draw[inh] ([xshift=89pt]fsacc.north west) -- ([xshift=83pt]fsra.south west);
\draw[inh] ([xshift=166pt]contmgr.north west) .. controls +(60,-100) and +(-80,150) .. ([xshift=42pt]basemgr.south west);
\draw[inh] ([xshift=120pt]manager.north west) .. controls +(30,-150) and +(0,100) .. ([yshift=-231pt]basemgr.north east);
\draw[inh] ([xshift=128pt]fitsq.north west) -- ([xshift=84pt]flavdef.south west);
\draw[inh] ([xshift=96pt]globtplif.north west) .. controls +(50,-1400) and +(-80,150) .. ([xshift=33pt]globtpl.south west);
\draw[inh] ([xshift=95pt]testformrepo.north west) .. controls +(0,-300) and +(-20,200) .. ([xshift=74pt]certformrepo.south west);
\draw[inh] ([yshift=-59pt]settingsformrepo.north west) .. controls +(-700,-40) and +(60,250) .. ([xshift=109pt]certformrepo.south west);
% aggregation
\draw[agg] ([yshift=-187pt]dbi.north east) -- ([yshift=-60pt]ilsetting.north west);
\draw[agg] ([xshift=-8pt]tStatic.south) .. controls +(0,90) and +(0,-80) .. ([xshift=-6pt]L2.west) .. controls +(0,60) and +(-40,-40) .. ([xshift=4pt]ilsetting.north west);
\draw[agg] ([xshift=-14pt]tString.south) .. controls +(0,100) and +(0,-90) .. ([xshift=-6pt]L3.west) .. controls +(0,60) and +(0,-40) .. ([xshift=85pt]ilsetting.north west);
\draw[agg] ([xshift=-6pt]tString.south) .. controls +(0,100) and +(0,-90) .. ([xshift=-6pt]L4.west) .. controls +(0,60) and +(0,-50) .. ([xshift=59pt]absstake.north west);
\draw[agg] ([xshift=-14pt]tBool.south) .. controls +(-200,120) and +(400,0) .. ([yshift=4pt]L5.north) .. controls +(-300,0) and +(0,-80) .. ([xshift=-10pt]ilsetting.north east);
\draw[agg] ([xshift=-8pt]tInt.south) .. controls +(-300,120) and +(300,0) .. ([yshift=4pt]L6.north) .. controls +(-200,0) and +(0,-80) .. ([xshift=-22pt]absstake.north east);
\draw[agg] ([xshift=-8pt]tBool.south) .. controls +(-300,80) and +(150,0) .. ([yshift=4pt]L7.north) .. controls +(-150,0) and +(-60,0) .. ([yshift=-8pt]errh.north west);
\draw[agg] ([xshift=5pt]tString.south) .. controls +(100,150) and +(0,-60) .. ([xshift=-6pt]L8.west) .. controls +(0,50) and +(0,-40) .. ([xshift=34pt]errh.north west);
\draw[agg] (tRun.south) -- ([xshift=103pt]errh.north west);
\draw[agg] ([xshift=-4pt]tBool.south) .. controls +(-60,120) and +(30,-100) .. ([xshift=164pt]errh.north west);
\draw[agg] (tInt.south) .. controls +(-20,200) and +(250,-40) .. ([yshift=-99pt]errh.north east);
\draw[agg] ([xshift=-20pt]tConst.south) .. controls +(-800,100) and +(200,0) .. ([yshift=4pt]L13.north) .. controls +(-300,0) and +(250,-60) .. ([yshift=-118pt]errh.north east);
\draw[agg] ([xshift=116pt]ilsetting.south west) .. controls +(0,150) and +(0,-150) .. ([xshift=30pt]ilias.north west);
\draw[agg] (tArray.south) -- ([xshift=81pt]artifact.north west);
\draw[agg] ([xshift=8pt]tArray.south) .. controls +(150,150) and +(0,-120) .. ([xshift=49pt]subject.north west);
\draw[agg] ([xshift=14pt]tArray.south) .. controls +(250,120) and +(-120,-40) .. ([yshift=-55pt]collections.north west);
\draw[agg] ([xshift=-14pt]tConst.south) .. controls +(-60,200) and +(80,-60) .. ([yshift=-47pt]comprepo.north east);
\draw[agg] ([xshift=14pt]tConst.south) .. controls +(700,60) and +(-20,-200) .. ([xshift=42pt]globtpl.north west);
\draw[agg] ([xshift=18pt]tConst.south) .. controls +(1200,40) and +(0,-300) .. ([xshift=-6pt]L19.west) .. controls +(0,250) and +(80,-80) .. ([xshift=113pt]pageformats.north west);
\draw[agg] ([xshift=22pt]tConst.south) .. controls +(1300,40) and +(-40,-200) .. ([xshift=64pt]fitsq.north west);
\draw[agg] ([xshift=10pt]tString.south) .. controls +(100,200) and +(0,-120) .. ([xshift=-6pt]L24.west) .. controls +(0,300) and +(-400,0) .. ([yshift=-6pt]objdef.north west);
\draw[agg] ([xshift=-10pt]tArray.south) .. controls +(-300,150) and +(0,-120) .. ([xshift=-6pt]L25.west) .. controls +(0,150) and +(0,-150) .. ([xshift=40pt]objdef.north west);
\draw[agg] ([xshift=-8pt]tConst.south) .. controls +(-600,120) and +(0,-150) .. ([xshift=-6pt]L26.west) .. controls +(0,200) and +(0,-200) .. ([xshift=170pt]objdef.north west);
\draw[agg] ([xshift=-4pt]tConst.south) .. controls +(-500,150) and +(0,-150) .. ([xshift=6pt]L27.east) .. controls +(0,250) and +(80,-40) .. ([yshift=-70pt]objdef.north east);
\draw[agg] ([xshift=18pt]tArray.south) .. controls +(100,200) and +(0,-200) .. ([xshift=-6pt]L28.west) .. controls +(0,300) and +(50,-60) .. ([yshift=-14pt]appevent.north east);
\draw[agg] ([xshift=26pt]tConst.south) .. controls +(900,40) and +(0,-200) .. ([xshift=-6pt]L29.west) .. controls +(0,300) and +(0,-300) .. ([xshift=123pt]cron.north west);
\draw[agg] ([xshift=-2pt]dbi.south) .. controls +(0,300) and +(0,-200) .. ([xshift=-6pt]L21.west) .. controls +(0,200) and +(0,-150) .. ([xshift=61pt]rbacreview.north west);
\draw[agg] ([xshift=-14pt]tStatic.south) .. controls +(-60,200) and +(0,-150) .. ([xshift=-6pt]L22.west) .. controls +(0,200) and +(0,-150) .. ([xshift=74pt]rbacreview.north west);
\draw[agg] ([xshift=-40pt]logger.south) .. controls +(0,120) and +(0,-100) .. ([xshift=-6pt]L32.west) .. controls +(0,150) and +(0,-150) .. ([xshift=128pt]rbacreview.north west);
\draw[agg] ([xshift=-20pt]tString.south) .. controls +(0,300) and +(0,-150) .. ([xshift=-6pt]L23.west) .. controls +(0,200) and +(20,-200) .. ([xshift=119pt]ilias.north west);
\draw[agg] ([xshift=-30pt]dbi.south) .. controls +(0,600) and +(0,-200) .. ([xshift=-6pt]L63.west) .. controls +(0,150) and +(-60,-60) .. ([yshift=-5pt]rbacadmin.north west);
\draw[agg] ([xshift=-55pt]dbi.south) .. controls +(0,200) and +(0,-150) .. ([xshift=-6pt]L30.west) .. controls +(0,300) and +(-200,0) .. (700,1430) .. controls +(1200,0) and +(-200,-100) .. ([yshift=-60pt]iltree.north west);
\draw[agg] ([xshift=20pt]dbi.south) .. controls +(0,200) and +(0,-150) .. ([xshift=6pt]L31.east) .. controls +(0,900) and +(-1200,-40) .. ([yshift=-20pt]ilobject.north west);
\draw[agg] ([xshift=134pt]rbacreview.south west) .. controls +(0,120) and +(0,-120) .. ([xshift=55pt]rbacadmin.north west);
\draw[agg] ([xshift=38pt]logger.south west) .. controls +(0,300) and +(0,-300) .. ([xshift=110pt]rbacadmin.north west);
\draw[agg] ([xshift=-20pt]tArray.south) .. controls +(-800,500) and +(600,0) .. (1500,742) .. controls +(-100,0) and +(0,-300) .. ([xshift=8pt]cachedlang.north west);
\draw[agg] ([xshift=20pt]tString.south) .. controls +(0,300) and +(0,-200) .. ([xshift=6pt]L35.east) .. controls +(0,300) and +(20,-300) .. ([xshift=118pt]cachedlang.north west);
\draw[agg] ([xshift=-10pt]tBool.south) .. controls +(-50,400) and +(0,-200) .. ([xshift=-6pt]L38.west) .. controls +(0,300) and +(300,-200) .. ([xshift=-8pt]cachedlang.north east);
\draw[agg] ([xshift=-16pt]tArray.south) .. controls +(-900,400) and +(0,-200) .. ([xshift=-6pt]L40.west) .. controls +(0,300) and +(400,-200) .. ([xshift=-3pt]cachedlang.north east);
\draw[agg] ([xshift=86pt]cachedlang.south west) .. controls +(0,150) and +(-30,-150) .. ([xshift=-3pt]illang.north west);
\draw[agg] ([xshift=25pt]tString.south) .. controls +(20,600) and +(0,-300) .. ([xshift=-6pt]L60.west) .. controls +(0,500) and +(20,-300) .. ([xshift=138pt]illang.north west);
\draw[agg] ([xshift=-2pt]tBool.south) .. controls +(-300,600) and +(0,-250) .. ([xshift=6pt]L61.east) .. controls +(0,500) and +(250,-200) .. ([yshift=-15pt]illang.north east);
\draw[agg] ([xshift=-4pt]tArray.south) .. controls +(-600,500) and +(0,-300) .. ([xshift=6pt]L62.east) .. controls +(0,600) and +(400,-100) .. ([yshift=-25pt]illang.north east);
\draw[agg] ([xshift=60pt]logger.south west) .. controls +(0,250) and +(0,-200) .. ([xshift=-6pt]L58.west) .. controls +(0,600) and +(-150,-50) .. ([yshift=-55pt]illang.north west);
\draw[agg] ([xshift=15pt]tString.south) .. controls +(200,300) and +(0,-200) .. ([xshift=-6pt]L37.west) .. controls +(0,500) and +(-100,-150) .. ([xshift=15pt]iltree.north west);
\draw[agg] ([xshift=10pt]logger.south) .. controls +(0,40) and +(-500,0) .. (1400,745) .. controls +(800,0) and +(0,-100) .. ([xshift=-6pt]L39.west) .. controls +(0,400) and +(0,-300) .. ([xshift=29pt]iltree.north west);
\draw[agg] ([xshift=8pt]tBool.south) .. controls +(0,300) and +(0,-200) .. ([xshift=-6pt]L42.west) .. controls +(0,400) and +(0,-300) .. ([xshift=37pt]iltree.north west);
\draw[agg] ([xshift=6pt]tInt.south) .. controls +(0,300) and +(0,-200) .. ([xshift=-6pt]L43.west) .. controls +(0,300) and +(0,-300) .. ([xshift=49pt]iltree.north west);
\draw[agg] ([xshift=46pt]treeimpl.south west) .. controls +(0,100) and +(0,-100) .. ([xshift=-6pt]L71.west) .. controls +(0,60) and +(0,-60) .. ([xshift=62pt]iltree.north west);
\draw[agg] ([xshift=12pt]appevent.south west) .. controls +(-80,150) and +(200,0) .. (3050,1400) .. controls +(-150,0) and +(0,-150) .. ([xshift=125pt]iltree.north west);
\draw[agg] ([xshift=10pt]tArray.south) .. controls +(400,300) and +(0,-200) .. ([xshift=-6pt]L48.west) .. controls +(0,500) and +(500,-100) .. ([yshift=-108pt]iltree.north east);
\draw[agg] ([xshift=-12pt]tConst.south) .. controls +(-50,300) and +(0,-200) .. ([xshift=-6pt]L49.west) .. controls +(0,500) and +(500,-100) .. ([yshift=-100pt]iltree.north east);
\draw[agg] ([xshift=64pt]compfac.south west) .. controls +(-20,200) and +(0,-200) .. ([xshift=60pt]appevent.north west);
\draw[agg] ([xshift=60pt]artifact.south west) .. controls +(-60,200) and +(0,-200) .. ([xshift=104pt]appevent.north west);
\draw[agg] (comprepo.south west) .. controls +(-60,100) and +(0,-200) .. ([xshift=-6pt]L46.west) .. controls +(0,200) and +(80,-40) .. ([yshift=-4pt]appevent.north east);
\draw[agg] ([xshift=66pt]comprepo.south west) .. controls +(0,150) and +(0,-100) .. ([xshift=-6pt]L47.west) .. controls +(0,300) and +(200,-50) .. ([yshift=-85pt]objdef.north east);
\draw[agg] ([xshift=148pt]subject.south west) .. controls +(150,200) and +(-100,-80) .. ([yshift=-29pt]services.north west);
\draw[agg] ([xshift=146pt]collections.south west) .. controls +(40,200) and +(-20,-200) .. ([xshift=10pt]services.north west);
\draw[agg] ([xshift=109pt]preloader.south west) -- ([xshift=62pt]services.north west);
\draw[agg] ([xshift=65pt]flavours.south west) -- ([xshift=96pt]services.north west);
\draw[agg] ([xshift=38pt]consumers.south west) .. controls +(-40,200) and +(40,-150) .. ([xshift=144pt]services.north west);
\draw[agg] ([xshift=64pt]contmgr.south west) .. controls +(-100,300) and +(150,-60) .. ([yshift=-43pt]services.north east);
\draw[agg] ([xshift=48pt]manager.south west) .. controls +(-80,120) and +(200,0) .. (5850,765) .. controls +(-150,0) and +(200,-150) .. ([yshift=-76pt]services.north east);
\draw[agg] ([xshift=83pt]cron.south west) .. controls +(0,1300) and +(300,-30) .. (5100,3421) .. controls +(-800,30) and +(400,-100) .. ([yshift=-345pt]objuser.north east);
\draw[agg] ([xshift=54pt]services.south west) .. controls +(-90,800) and +(0,-500) .. (5157,3109) .. controls +(0,300) and +(600,-100) .. ([yshift=-355pt]objuser.north east);
\draw[agg] ([xshift=10pt]tConst.south) .. controls +(200,400) and +(0,-600) .. ([xshift=-6pt]L83.west) .. controls +(0,1000) and +(700,-80) .. ([yshift=-330pt]objuser.north east);
\draw[agg] ([xshift=22pt]tArray.south) .. controls +(600,300) and +(0,-600) .. ([xshift=-6pt]L82.west) .. controls +(0,1000) and +(800,-60) .. ([yshift=-338pt]objuser.north east);
\draw[agg] ([xshift=2pt]tConst.south) .. controls +(0,400) and +(0,-400) .. ([xshift=-6pt]L74.west) .. controls +(0,900) and +(1500,-200) .. ([yshift=-256pt]ilobject.north east);
\draw[agg] ([xshift=10pt]tInt.south) .. controls +(300,500) and +(0,-300) .. ([xshift=-6pt]L81.west) .. controls +(0,900) and +(50,-600) .. ([xshift=161pt]objuser.north west);
\draw[agg] ([xshift=170pt]iltree.south west) .. controls +(0,200) and +(0,-200) .. ([xshift=-6pt]L92.west) .. controls +(0,400) and +(0,-400) .. ([xshift=116pt]objuser.north west);
\draw[agg] ([xshift=4pt]tBool.south) .. controls +(-150,700) and +(0,-300) .. ([xshift=-6pt]L80.west) .. controls +(0,1100) and +(-300,-100) .. ([yshift=-340pt]objuser.north west);
\draw[agg] ([xshift=27pt]tString.south) .. controls +(40,900) and +(0,-400) .. ([xshift=6pt]L78.east) .. controls +(0,900) and +(-700,-100) .. ([yshift=-350pt]objuser.north west);
\draw[agg] ([yshift=-460pt]objuser.north west) .. controls +(-150,-100) and +(150,100) .. ([yshift=-438pt]ilobject.north east);
\draw[agg] ([yshift=-52pt]filesystem.north west) .. controls +(-1500,150) and +(700,-150) .. ([yshift=-44pt]objcertsettings.north east);
\draw[agg] (datefmt.south) .. controls +(0,300) and +(-300,-100) .. ([yshift=-357pt]objuser.north west);
\draw[agg] ([xshift=59pt]objdef.south west) .. controls +(0,800) and +(300,-100) .. ([yshift=-200pt]ilobject.north east);
\draw[agg] ([xshift=20pt]appevent.south west) .. controls +(-200,800) and +(400,-100) .. ([yshift=-228pt]ilobject.north east);
\draw[agg] ([xshift=-25pt]tString.south) .. controls +(100,700) and +(0,-300) .. ([xshift=6pt]L68.east) .. controls +(0,600) and +(-60,-200) .. ([xshift=3pt]ilobject.north west);
\draw[agg] ([xshift=-6pt]tBool.south) .. controls +(-100,600) and +(0,-300) .. ([xshift=-6pt]L69.west) .. controls +(0,800) and +(400,-100) .. ([yshift=-265pt]ilobject.north east);
\draw[agg] ([xshift=-6pt]tInt.south) .. controls +(-50,600) and +(0,-300) .. ([xshift=-6pt]L70.west) .. controls +(0,800) and +(300,-100) .. ([yshift=-282pt]ilobject.north east);
\draw[agg] ([yshift=-300pt]illang.north east) .. controls +(200,80) and +(-300,-20) .. ([yshift=-3pt]ilobject.north west);
\draw[agg] (transrepo.south) .. controls +(0,150) and +(-100,-40) .. ([xshift=14pt]ilobject.north west);
\draw[agg] (lom.south) .. controls +(20,120) and +(-30,-80) .. ([xshift=22pt]ilobject.north west);
\draw[agg] ([xshift=118pt]props.south west) -- ([xshift=113pt]ilobject.north west);
\draw[agg] ([xshift=75pt]aggregator.south west) .. controls +(0,120) and +(50,-100) .. ([yshift=-15pt]ilobject.north east);
\draw[agg] ([xshift=90pt]logger.south west) .. controls +(0,600) and +(0,-400) .. ([xshift=-6pt]L76.west) .. controls +(0,700) and +(-900,-30) .. ([yshift=-40pt]ilobject.north west);
\draw[agg] ([xshift=79pt]rbacreview.south west) .. controls +(0,500) and +(0,-200) .. ([xshift=-6pt]L85.west) .. controls +(0,400) and +(-1000,-30) .. ([yshift=-50pt]ilobject.north west);
\draw[agg] ([xshift=126pt]rbacadmin.south west) .. controls +(0,300) and +(0,-150) .. ([xshift=-6pt]L90.west) .. controls +(0,250) and +(-900,-20) .. ([yshift=-30pt]ilobject.north west);
\draw[agg] ([xshift=10pt]ilsetting.south west) .. controls +(-100,700) and +(0,-300) .. ([xshift=6pt]L84.east) .. controls +(0,700) and +(-150,-300) .. ([xshift=37pt]objcertsettings.north west);
\draw[agg] ([xshift=83pt]utilhelper.south west) .. controls +(0,200) and +(0,-150) .. ([xshift=6pt]L97.east) .. controls +(0,400) and +(50,-300) .. ([xshift=144pt]importaction.north west);
\draw[agg] ([xshift=39pt]ilias.south west) .. controls +(0,100) and +(0,-100) .. ([xshift=-6pt]L66.west) .. controls +(0,300) and +(0,-300) .. ([xshift=69pt]utilhelper.north west);
\draw[agg] ([xshift=65pt]ilias.south west) .. controls +(0,300) and +(0,-200) .. ([xshift=-6pt]L86.west) .. controls +(0,100) and +(-150,-30) .. ([yshift=-70pt]illang.north west);
\draw[agg] ([xshift=95pt]ilias.south west) .. controls +(0,200) and +(0,-200) .. ([xshift=-6pt]L77.west) .. controls +(0,1500) and +(-1500,0) .. ([yshift=-370pt]objuser.north west);
\draw[agg] ([xshift=52pt]ilias.south west) .. controls +(0,800) and +(0,-300) .. ([xshift=-6pt]L91.west) .. controls +(0,1000) and +(-1200,-50) .. ([yshift=-375pt]objuser.north west);
\draw[agg] ([xshift=-18pt]tStatic.south) .. controls +(-300,600) and +(0,-500) .. ([xshift=6pt]L75.east) .. controls +(0,1600) and +(-2000,0) .. ([yshift=-362pt]objuser.north west);
\draw[agg] ([xshift=100pt]logger.south west) .. controls +(0,400) and +(0,-300) .. ([xshift=-6pt]L65.west) .. controls +(0,500) and +(-150,-60) .. ([yshift=-88pt]illang.north west);
\draw[agg] (logger.east) .. controls +(500,300) and +(0,-200) .. ([xshift=-6pt]L59.west) .. controls +(0,150) and +(-800,0) .. ([yshift=-150pt]objdef.north west);
\draw[agg] ([xshift=13pt]errh.south west) .. controls +(-60,80) and +(0,-60) .. ([xshift=-6pt]L36.west) .. controls +(0,150) and +(250,-80) .. ([yshift=-10pt]ilias.north east);
\draw[agg] ([xshift=40pt]errh.south west) .. controls +(0,500) and +(0,-400) .. ([xshift=-6pt]L79.west) .. controls +(0,900) and +(-600,-100) .. ([yshift=-366pt]objuser.north west);
\draw[agg] (ilsetting.east) .. controls +(800,150) and +(0,-150) .. ([xshift=-6pt]L41.west) .. controls +(0,200) and +(-300,-60) .. ([yshift=-20pt]objdef.north west);
\draw[agg] ([xshift=-25pt]ilsetting.north east) .. controls +(200,-250) and +(0,-150) .. ([xshift=6pt]L11.east) .. controls +(0,600) and +(-100,-300) .. ([xshift=8pt]iltree.north west);
\draw[agg] ([xshift=-12pt]tArray.south) .. controls +(-500,600) and +(0,-400) .. ([xshift=-6pt]L73.west) .. controls +(0,1200) and +(20,-600) .. ([xshift=146pt]objuser.north west);
\draw[agg] ([xshift=110pt]ilias.south west) .. controls +(0,150) and +(0,-100) .. ([xshift=-6pt]L67.west) .. controls +(0,100) and +(-20,-60) .. ([xshift=5pt]cachedlang.north west);
\draw[agg] (rostorage.south) .. controls +(30,300) and +(-10,-200) .. ([xshift=99pt]objcertsettings.north west);
\draw[agg] ([xshift=81pt]reshandler.south west) .. controls +(-20,300) and +(0,-200) .. ([xshift=115pt]objcertsettings.north west);
\draw[agg] ([xshift=130pt]tplstake.south west) .. controls +(100,300) and +(-20,-150) .. ([xshift=61pt]objcertsettings.north west);
\draw[agg] ([xshift=79pt]tplstake.south west) .. controls +(-60,300) and +(0,-200) .. ([xshift=95pt]importaction.north west);
\draw[agg] ([xshift=72pt]objhelper.south west) .. controls +(0,300) and +(-30,-150) .. ([xshift=62pt]importaction.north west);
\draw[agg] ([xshift=158pt]certtplrepo.south west) .. controls +(50,200) and +(-60,-150) .. ([xshift=57pt]importaction.north west);
\draw[agg] ([xshift=106pt]certtplrepo.south west) .. controls +(-60,800) and +(-150,0) .. (300,4210) .. controls +(2500,50) and +(-1500,0) .. ([yshift=-56pt]settingsformrepo.north west);
\draw[agg] ([xshift=91pt]importaction.south west) .. controls +(250,250) and +(-500,-10) .. (1700,4262) .. controls +(2000,10) and +(-1500,-10) .. ([yshift=-50pt]settingsformrepo.north west);
\draw[agg] ([yshift=-118pt]objcertsettings.north east) .. controls +(500,120) and +(-800,0) .. (3000,4205) .. controls +(1200,0) and +(-150,-60) .. (4900,4285) .. controls +(300,20) and +(-300,-10) .. ([yshift=-45pt]settingsformrepo.north west);
\draw[agg] ([xshift=70pt]pageformats.south west) .. controls +(-20,600) and +(0,-600) .. ([xshift=-6pt]L95.west) .. controls +(0,1200) and +(40,-200) .. ([xshift=109pt]settingsformrepo.north west);
\draw[agg] ([xshift=31pt]fitsq.south west) .. controls +(-200,700) and +(0,-600) .. ([xshift=-6pt]L96.west) .. controls +(0,1200) and +(30,-200) .. ([xshift=160pt]settingsformrepo.north west);
\draw[agg] ([xshift=86pt]globtplif.south west) -- ([xshift=83pt]settingsformrepo.north west);
\draw[agg] ([xshift=137pt]filesystem.south west) -- ([xshift=11pt]settingsformrepo.north west);
\draw[agg] (irss.south) .. controls +(20,300) and +(120,-30) .. ([yshift=-42pt]settingsformrepo.north east);
\draw[agg] (uifac.south) .. controls +(0,300) and +(150,-20) .. ([yshift=-44pt]settingsformrepo.north east);
\draw[agg] (refinery.south) .. controls +(0,300) and +(200,-20) .. ([yshift=-46pt]settingsformrepo.north east);
\draw[agg] (wrapfac.south) .. controls +(0,250) and +(250,-20) .. ([yshift=-48pt]settingsformrepo.north east);
\draw[agg] ([yshift=-75pt]settingsformrepo.north west) .. controls +(-400,50) and +(400,-30) .. ([yshift=-42pt]testformrepo.north east);
\end{pgfonlayer}
\end{tikzpicture}
\end{document}
